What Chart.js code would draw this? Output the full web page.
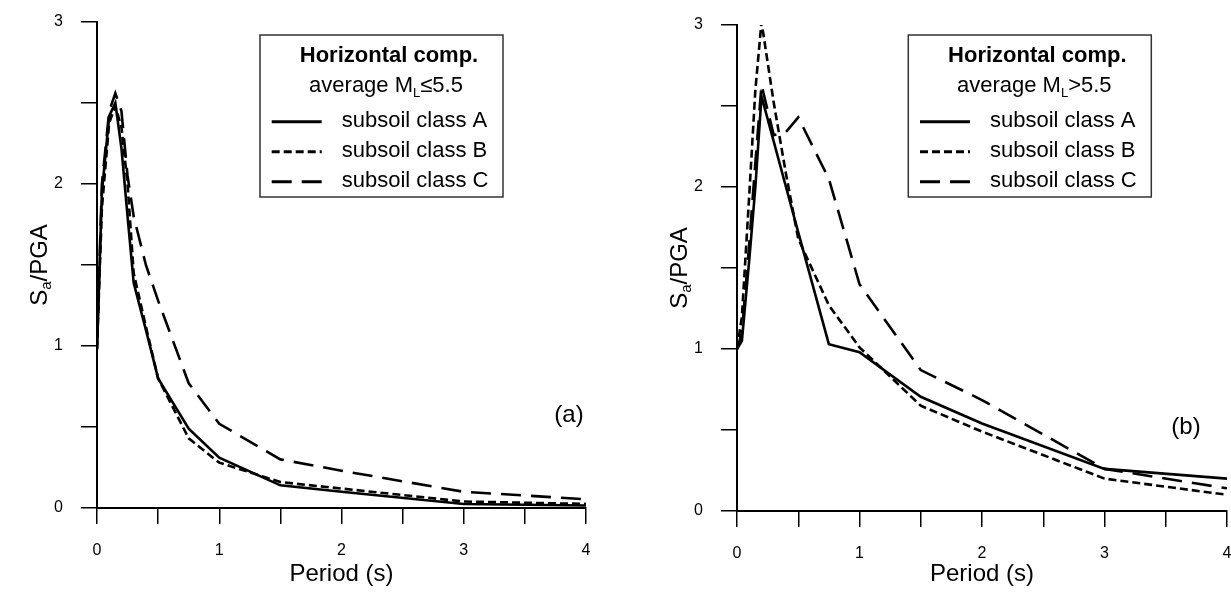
<!DOCTYPE html>
<html>
<head>
<meta charset="utf-8">
<script src="https://cdn.jsdelivr.net/npm/chart.js@4/dist/chart.umd.min.js"></script>
<style>
  html, body { margin: 0; padding: 0; background: #fff; }
  #wrap { position: relative; width: 1231px; height: 592px; overflow: hidden; background: #fff; }
  #wrap canvas { position: absolute; top: 0; }
  #cLeft { left: 0; }
  #cRight { left: 615px; }
</style>
</head>
<body>
<div id="wrap">
  <canvas id="cLeft" width="615" height="592"></canvas>
  <canvas id="cRight" width="616" height="592"></canvas>
</div>
<script>
// ---------- DATA ----------
const seriesLabels = ['subsoil class A', 'subsoil class B', 'subsoil class C'];

// (a) average ML <= 5.5
const periodsLeft = [0, 0.04, 0.1, 0.15, 0.2, 0.25, 0.3, 0.4, 0.5, 0.75, 1.0, 1.5, 2.0, 3.0, 4.0];
const leftClassA  = [0.98, 1.95, 2.42, 2.50, 2.22, 1.80, 1.39, 1.10, 0.80, 0.49, 0.31, 0.14, 0.10, 0.025, 0.015];
const leftClassB  = [0.98, 1.85, 2.38, 2.48, 2.35, 2.00, 1.45, 1.12, 0.80, 0.43, 0.28, 0.16, 0.12, 0.040, 0.025];
const leftClassC  = [1.00, 2.00, 2.45, 2.56, 2.45, 2.05, 1.80, 1.50, 1.28, 0.77, 0.52, 0.30, 0.23, 0.100, 0.054];

// (b) average ML > 5.5
const periodsRight = [0, 0.04, 0.1, 0.15, 0.2, 0.3, 0.4, 0.5, 0.75, 1.0, 1.5, 2.0, 3.0, 4.0];
const rightClassA  = [1.00, 1.05, 1.55, 2.00, 2.56, 2.28, 2.00, 1.72, 1.03, 0.98, 0.705, 0.54, 0.26, 0.20];
const rightClassB  = [1.00, 1.20, 1.95, 2.60, 3.02, 2.52, 2.08, 1.68, 1.27, 1.01, 0.65, 0.49, 0.20, 0.10];
const rightClassC  = [1.00, 1.10, 1.65, 2.15, 2.63, 2.32, 2.34, 2.43, 2.05, 1.40, 0.87, 0.685, 0.26, 0.14];

const legendTitle = 'Horizontal comp.';
const leftSubtitle  = ['average M', 'L', '\u22645.5'];
const rightSubtitle = ['average M', 'L', '>5.5'];
const panelLetters = ['(a)', '(b)'];
const xAxisTitle = 'Period (s)';
const yTitleParts = ['S', 'a', '/PGA'];

// ---------- STYLE ----------
const FONT = "'Liberation Sans', Arial, Helvetica, sans-serif";
const dashStyles = [[], [8, 4], [20, 10]];

function drawRuns(ctx, runs, x, y, align) {
  let total = 0;
  runs.forEach(r => { ctx.font = r.font; r.w = ctx.measureText(r.text).width; total += r.w; });
  let cx = align === 'center' ? x - total / 2 : x;
  runs.forEach(r => {
    ctx.font = r.font;
    ctx.textAlign = 'left';
    ctx.fillText(r.text, cx, y + (r.dy || 0));
    cx += r.w;
  });
}

const overlayPlugin = {
  id: 'overlay',
  afterDraw(chart, args, o) {
    const ctx = chart.ctx;
    const ca = chart.chartArea;
    ctx.save();
    ctx.fillStyle = '#000';
    ctx.textBaseline = 'middle';
    // y axis title with subscript
    ctx.save();
    ctx.translate(o.yTitleX, (ca.top + ca.bottom) / 2);
    ctx.rotate(-Math.PI / 2);
    drawRuns(ctx, [
      { text: yTitleParts[0], font: `24px ${FONT}` },
      { text: yTitleParts[1], font: `15px ${FONT}`, dy: 7 },
      { text: yTitleParts[2], font: `24px ${FONT}` }
    ], 0, 0, 'center');
    ctx.restore();

    // panel letter
    ctx.font = `24px ${FONT}`;
    ctx.textAlign = 'center';
    ctx.fillText(o.letter, o.letterX, o.letterY);

    // legend box
    const b = o.box;
    ctx.strokeStyle = '#333';
    ctx.lineWidth = 1.5;
    ctx.strokeRect(b.x, b.y, b.w, b.h);
    ctx.textBaseline = 'alphabetic';
    drawRuns(ctx, [{ text: legendTitle, font: `bold 22px ${FONT}` }], b.x + 129, b.y + 27, 'center');
    drawRuns(ctx, [
      { text: o.subtitle[0], font: `22px ${FONT}` },
      { text: o.subtitle[1], font: `13px ${FONT}`, dy: 5 },
      { text: o.subtitle[2], font: `22px ${FONT}` }
    ], b.x + 126, b.y + 57, 'center');
    chart.data.datasets.forEach((ds, i) => {
      const ly = b.y + 86.7 + i * 30;
      ctx.beginPath();
      ctx.setLineDash(ds.borderDash || []);
      ctx.lineWidth = 3;
      ctx.strokeStyle = '#000';
      ctx.moveTo(b.x + 11.7, ly);
      ctx.lineTo(b.x + 61.7, ly);
      ctx.stroke();
      ctx.setLineDash([]);
      ctx.font = `22px ${FONT}`;
      ctx.textAlign = 'left';
      ctx.fillText(ds.label, b.x + 81.7, ly + 5);
    });
    ctx.restore();
  }
};

function buildChart(id, periods, series, cfg) {
  const datasets = series.map((vals, i) => ({
    label: seriesLabels[i],
    data: periods.map((p, j) => ({ x: p, y: vals[j] })),
    borderColor: '#000',
    borderWidth: 2.6,
    borderDash: dashStyles[i],
    pointRadius: 0,
    tension: 0,
    fill: false
  }));
  const tickFont = { family: FONT, size: 16 };
  return new Chart(document.getElementById(id), {
    type: 'line',
    data: { datasets },
    plugins: [overlayPlugin],
    options: {
      responsive: false,
      animation: false,
      devicePixelRatio: 1,
      layout: { padding: { top: cfg.top, right: cfg.right, left: 0, bottom: 0 } },
      plugins: {
        legend: { display: false },
        tooltip: { enabled: false },
        overlay: cfg.overlay
      },
      scales: {
        x: {
          type: 'linear', min: 0, max: 4,
          afterFit: s => { s.height = cfg.xHeight; s.paddingLeft = 0; s.paddingRight = 0; },
          ticks: {
            stepSize: 0.5, autoSkip: false, maxRotation: 0, padding: 17, color: '#000', font: tickFont,
            callback: v => Number.isInteger(v) ? String(v) : ''
          },
          grid: { drawOnChartArea: false, drawTicks: true, tickLength: 16, color: '#000', lineWidth: 1.5 },
          border: { display: true, color: '#000', width: 2 },
          title: { display: true, text: xAxisTitle, color: '#000', font: { family: FONT, size: 24 }, padding: { top: 0, bottom: 3 } }
        },
        y: {
          type: 'linear', min: 0, max: 3,
          afterFit: s => { s.width = cfg.yWidth; s.paddingTop = 0; s.paddingBottom = 0; },
          ticks: {
            stepSize: 0.5, autoSkip: false, padding: 18, color: '#000', font: tickFont,
            callback: v => Number.isInteger(v) ? String(v) : ''
          },
          grid: { drawOnChartArea: false, drawTicks: true, tickLength: 16, color: '#000', lineWidth: 1.5 },
          border: { display: true, color: '#000', width: 2 },
          title: { display: false }
        }
      }
    }
  });
}

buildChart('cLeft', periodsLeft, [leftClassA, leftClassB, leftClassC], {
  top: 22, right: 29, xHeight: 84, yWidth: 97,
  overlay: {
    yTitleX: 40, letter: panelLetters[0], letterX: 569, letterY: 415,
    box: { x: 260, y: 35, w: 243, h: 162 }, subtitle: leftSubtitle
  }
});

buildChart('cRight', periodsRight, [rightClassA, rightClassB, rightClassC], {
  top: 25, right: 4, xHeight: 81, yWidth: 122,
  overlay: {
    yTitleX: 65, letter: panelLetters[1], letterX: 571, letterY: 427,
    box: { x: 293.3, y: 35, w: 243, h: 162 }, subtitle: rightSubtitle
  }
});
</script>
</body>
</html>
